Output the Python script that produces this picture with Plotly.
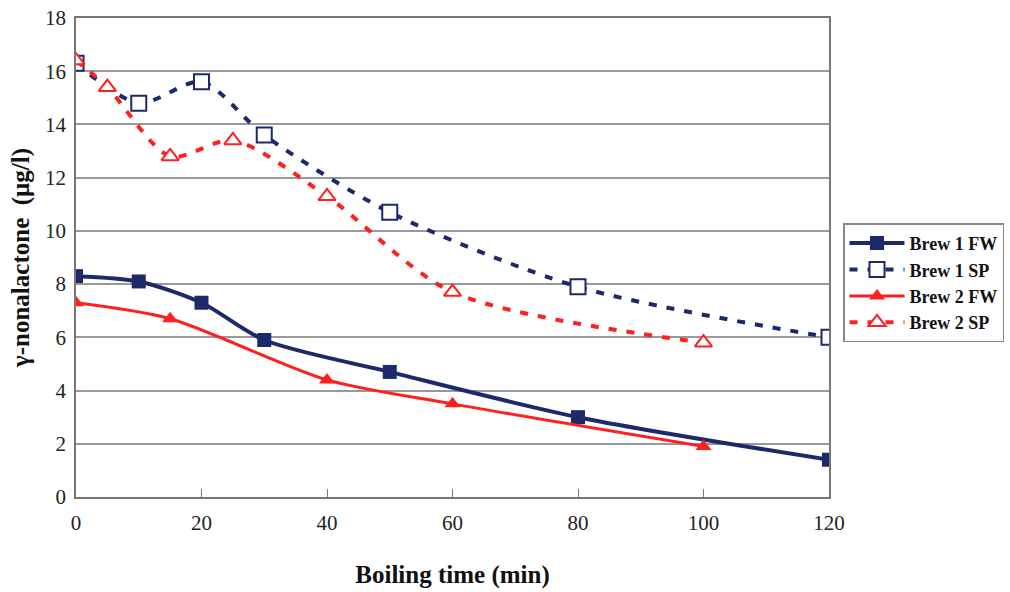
import plotly.graph_objects as go

# Data
b1fw_x = [0, 10, 20, 30, 50, 80, 120]
b1fw_y = [8.3, 8.1, 7.3, 5.9, 4.7, 3.0, 1.4]
b1sp_x = [0, 10, 20, 30, 50, 80, 120]
b1sp_y = [16.3, 14.8, 15.6, 13.6, 10.7, 7.9, 6.0]
b2fw_x = [0, 15, 40, 60, 100]
b2fw_y = [7.3, 6.7, 4.4, 3.5, 1.9]
b2sp_x = [0, 5, 15, 25, 40, 60, 100]
b2sp_y = [16.4, 15.4, 12.8, 13.4, 11.3, 7.7, 5.8]
x_ticks = [0, 20, 40, 60, 80, 100, 120]
y_ticks = [0, 2, 4, 6, 8, 10, 12, 14, 16, 18]

NAVY = "#1c2a6c"
RED = "#ff1f1f"
FONT = "'Times New Roman', 'Liberation Serif', Times, serif"

fig = go.Figure()
fig.add_trace(go.Scatter(
    x=b1fw_x, y=b1fw_y, name="Brew 1 FW", mode="lines+markers",
    line=dict(color=NAVY, width=4, shape="spline", smoothing=0.8),
    marker=dict(symbol="square", size=14, color=NAVY)))
fig.add_trace(go.Scatter(
    x=b1sp_x, y=b1sp_y, name="Brew 1 SP", mode="lines+markers",
    line=dict(color=NAVY, width=4, shape="spline", smoothing=0.8, dash="8px,10px"),
    marker=dict(symbol="square", size=15, color="white", line=dict(color=NAVY, width=2))))
fig.add_trace(go.Scatter(
    x=b2fw_x, y=b2fw_y, name="Brew 2 FW", mode="lines+markers",
    line=dict(color=RED, width=3, shape="spline", smoothing=0.8),
    marker=dict(symbol="triangle-up", size=14, color=RED)))
fig.add_trace(go.Scatter(
    x=b2sp_x, y=b2sp_y, name="Brew 2 SP", mode="lines+markers",
    line=dict(color=RED, width=4, shape="spline", smoothing=0.8, dash="8px,10px"),
    marker=dict(symbol="triangle-up", size=15, color="white", line=dict(color=RED, width=2))))

fig.update_layout(
    width=1010, height=592,
    margin=dict(l=76, r=181, t=18, b=95, autoexpand=False),
    paper_bgcolor="white", plot_bgcolor="white",
    font=dict(family=FONT, size=21, color="#222"),
    legend=dict(x=1.0186, y=0.447, xanchor="left", yanchor="middle",
                bordercolor="#888", borderwidth=1.5, itemwidth=55,
                font=dict(family=FONT, size=18, color="#111", weight="bold"),
                tracegroupgap=0),
    xaxis=dict(range=[0, 120], tickvals=x_ticks, showgrid=False, automargin=False,
               showline=True, linecolor="#777", linewidth=1.5, mirror=True,
               ticks="inside", ticklen=8, tickcolor="#777", ticklabelstandoff=6,
               ticklabeloverflow="allow",
               tickfont=dict(family=FONT, size=21, color="#222"),
               title=dict(text="Boiling time (min)", standoff=32,
                          font=dict(family=FONT, size=25, color="#111", weight="bold"))),
    yaxis=dict(range=[0, 18], tickvals=y_ticks, showgrid=True, automargin=False,
               gridcolor="#999", gridwidth=1.5,
               showline=True, linecolor="#777", linewidth=1.5, mirror=True,
               ticks="", zeroline=False, ticklabelstandoff=4,
               ticklabeloverflow="allow",
               tickfont=dict(family=FONT, size=21, color="#222"),
               title=dict(text="γ-nonalactone  (μg/l)", standoff=8,
                          font=dict(family=FONT, size=25, color="#111", weight="bold"))),
)

fig.write_html("out.html", config={"displayModeBar": False},
               post_script="document.body.style.margin='0';")
